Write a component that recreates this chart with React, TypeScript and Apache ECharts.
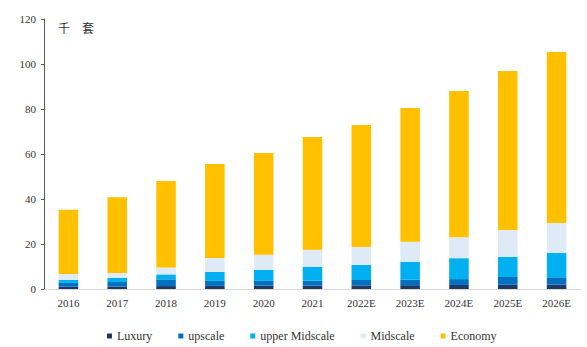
import React, { useEffect, useRef } from "react";
import * as echarts from "echarts";

const categories = ["2016", "2017", "2018", "2019", "2020", "2021", "2022E", "2023E", "2024E", "2025E", "2026E"];
const luxury = [1.0, 1.1, 1.3, 1.4, 1.5, 1.5, 1.6, 1.7, 1.8, 1.9, 2.0];
const upscale = [1.7, 2.0, 3.0, 2.2, 2.1, 2.2, 2.4, 2.4, 2.6, 3.4, 3.2];
const upperMidscale = [1.3, 1.8, 2.2, 4.0, 4.9, 6.2, 6.7, 8.0, 9.3, 8.9, 10.8];
const midscale = [2.7, 2.2, 3.1, 6.2, 6.7, 7.6, 8.0, 8.9, 9.3, 12.0, 13.3];
const economy = [28.5, 33.7, 38.4, 41.8, 45.2, 50.1, 54.2, 59.5, 65.0, 70.7, 76.0];
const seriesNames = ["Luxury", "upscale", "upper Midscale", "Midscale", "Economy"];
const colors = ["#1F3864", "#0070C0", "#00B0F0", "#DEEBF7", "#FFC000"];

export default function App() {
  const ref = useRef<HTMLDivElement>(null);
  useEffect(() => {
    if (!ref.current) return;
    const chart = echarts.init(ref.current, null, { renderer: "svg" });
    const data = [luxury, upscale, upperMidscale, midscale, economy];
    const font = "'Liberation Serif', 'Times New Roman', serif";
    chart.setOption({
      animation: false,
      color: colors,
      textStyle: { fontFamily: font },
      grid: { left: 44, right: 6, top: 19, bottom: 58, containLabel: false },
      legend: {
        bottom: 0,
        left: 102,
        itemWidth: 5,
        itemHeight: 5,
        itemGap: 26,
        icon: "rect",
        textStyle: { fontFamily: font, fontSize: 12, color: "#333" },
        data: seriesNames,
      },
      xAxis: {
        type: "category",
        data: categories,
        axisLine: { lineStyle: { color: "#D9D9D9" } },
        axisTick: { show: false },
        axisLabel: { fontFamily: font, fontSize: 11, color: "#333", margin: 8 },
      },
      yAxis: {
        type: "value",
        min: 0,
        max: 120,
        interval: 20,
        axisLine: { show: true, lineStyle: { color: "#595959" } },
        axisTick: { show: true, length: 3, lineStyle: { color: "#595959" } },
        splitLine: { show: false },
        axisLabel: { fontFamily: font, fontSize: 11, color: "#333", margin: 8 },
      },
      graphic: [
        {
          type: "text",
          left: 58,
          top: 21,
          style: { text: "千\u3000套", font: "12px 'Noto Sans CJK SC', sans-serif", fill: "#333" },
        },
      ],
      series: seriesNames.map((name, i) => ({
        name,
        type: "bar",
        stack: "total",
        barWidth: "40%",
        data: data[i],
        itemStyle: { color: colors[i] },
      })),
    });
    return () => chart.dispose();
  }, []);
  return <div ref={ref} style={{ width: 587, height: 347, position: "absolute", left: 0, top: 0 }} />;
}
